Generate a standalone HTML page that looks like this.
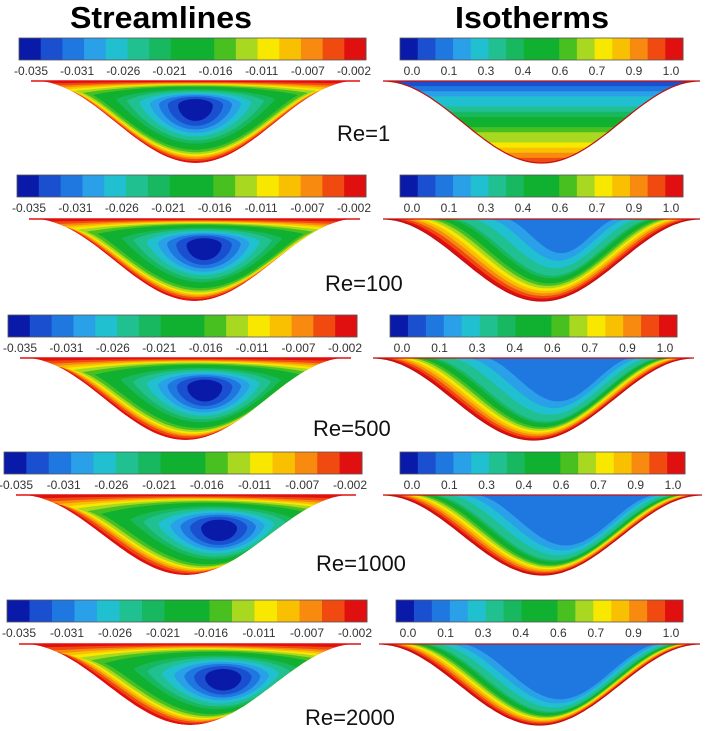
<!DOCTYPE html>
<html><head><meta charset="utf-8">
<style>
body{margin:0;background:#fff;width:709px;height:731px;overflow:hidden;font-family:"Liberation Sans",sans-serif}
svg{display:block}
</style></head>
<body>
<svg id="fig" width="709" height="731" viewBox="0 0 709 731" xmlns="http://www.w3.org/2000/svg">
<text x="70" y="28" font-size="31" font-weight="bold" textLength="182" lengthAdjust="spacingAndGlyphs">Streamlines</text>
<text x="455" y="28" font-size="31" font-weight="bold" textLength="154" lengthAdjust="spacingAndGlyphs">Isotherms</text>
</svg>
<script>
const palette=["#0a1aa8","#1a4fd0","#1f78e0","#2aa0e8","#20c0d0","#20c090","#18b860","#10b030","#10b030","#48c020","#a8d820","#f8e800","#f8c000","#f88a10","#f04a10","#e01010"];
const streamLabels=["-0.035","-0.031","-0.026","-0.021","-0.016","-0.011","-0.007","-0.002"];
const isoLabels=["0.0","0.1","0.3","0.4","0.6","0.7","0.9","1.0"];
const reLabels=["Re=1","Re=100","Re=500","Re=1000","Re=2000"];
const barTops=[38,175,315,452,600];
const leftBarX=[19,17,8,4,7];
const leftBarX2=[366,366,357,362,367];
const rightBarX=[400,400,390,400,396];
const rightBarX2=[683,683,677,685,683];
const cavTop=[81,219,358,495,644];
const cavDepth=[82,82,82,80,81];
const reX=[337,325,313,316,305];
const reY=[141,291,436,571,725];
const vortexT=[0.5,0.53,0.56,0.6,0.6];
const vortexD=[0.3,0.32,0.36,0.42,0.42];
const isoCenterT=[0.55,0.6,0.65,0.68,0.68];
const warmW=[0,0.03,0.022,0.018,0.016];
const coolW=[0,0.09,0.08,0.06,0.05];

const svg=document.getElementById('fig');
const NS="http://www.w3.org/2000/svg";
function mk(tag,attrs,parent){const e=document.createElementNS(NS,tag);for(const k in attrs)e.setAttribute(k,attrs[k]);(parent||svg).appendChild(e);return e;}

const NB=80, NT=30;
function cavityPts(x1,x2,y0,D){
  const pts=[];
  for(let i=0;i<=NB;i++){const t=i/NB;const f=Math.pow(Math.sin(Math.PI*t),2);pts.push([x1+(x2-x1)*t,y0+D*f]);}
  return pts;
}
function cavityFull(x1,x2,y0,D){
  const pts=cavityPts(x1,x2,y0,D);
  for(let j=1;j<NT;j++){const u=j/NT;pts.push([x2-(x2-x1)*u,y0]);}
  return pts;
}
function ellipseFull(cx,cy,rx,ryb,ryt){
  const pts=[];
  for(let i=0;i<=NB;i++){const t=i/NB;pts.push([cx-rx*Math.cos(Math.PI*t),cy+ryb*Math.sin(Math.PI*t)]);}
  for(let j=1;j<NT;j++){const u=j/NT;pts.push([cx+rx*Math.cos(Math.PI*u),cy-ryt*Math.sin(Math.PI*u)]);}
  return pts;
}
function scaled(pts,cx,cy,sx,sy){return pts.map(p=>[cx+(p[0]-cx)*sx,cy+(p[1]-cy)*sy]);}
function pathD(pts){return "M"+pts.map(p=>p[0].toFixed(1)+","+p[1].toFixed(1)).join("L")+"Z";}
function addClip(id,pts){
  const cp=document.createElementNS(NS,'clipPath');cp.setAttribute('id',id);
  const cpp=document.createElementNS(NS,'path');cpp.setAttribute('d',pathD(pts));cp.appendChild(cpp);svg.appendChild(cp);
}

function colorbar(x1,x2,y,labels,name){
  const n=palette.length, w=(x2-x1)/n;
  palette.forEach((c,i)=>{
    const r=mk('rect',{x:x1+i*w,y:y,width:w+0.5,height:22,fill:c});
    
    
  });
  const b=mk('rect',{x:x1,y:y,width:x2-x1,height:22,fill:'none',stroke:'#555','stroke-width':0.8});
  
  
  labels.forEach((l,i)=>{
    const t=mk('text',{x:x1+12+i*(x2-x1-24)/(labels.length-1),y:y+37,'text-anchor':'middle','font-size':12,fill:'#333'});
    t.textContent=l;
    
    
  });
}

const sS=[1,0.95,0.9,0.86,0.82,0.78,0.73,0.67,0.6,0.53,0.46,0.38,0.31,0.25,0.19,0.12];
for(let r=0;r<5;r++){
  const by=barTops[r];
  colorbar(leftBarX[r],leftBarX2[r],by,streamLabels,'stream-colorbar');
  colorbar(rightBarX[r],rightBarX2[r],by,isoLabels,'iso-colorbar');
  const y0=cavTop[r],D=cavDepth[r];
  // streamlines
  const lx1=leftBarX[r]+16,lx2=leftBarX2[r]-10;
  const lp=cavityFull(lx1,lx2,y0,D);
  addClip('sclip'+r,lp);
  const sg=mk('g',{'clip-path':'url(#sclip'+r+')'});
  
  
  const cx=lx1+(lx2-lx1)*vortexT[r],cy=y0+D*vortexD[r];
  for(let k=0;k<sS.length;k++){
    const c=palette[palette.length-1-k];
    const s=sS[k];
    const sc=scaled(lp,cx,cy,s,Math.pow(s,0.6));
    const el=ellipseFull(cx,cy,(lx2-lx1)/2*s*0.9,(y0+D-cy)*Math.pow(s,0.6)*0.95,(cy-y0)*Math.pow(s,0.6)*0.95);
    const w=Math.pow(s,1.5);
    const pts=sc.map((p,i)=>[p[0]*w+el[i][0]*(1-w),p[1]*w+el[i][1]*(1-w)]);
    const p=mk('path',{d:pathD(pts),fill:c},sg);
    
    
  }
  const tl=mk('line',{x1:lx1-4,y1:y0,x2:lx2+4,y2:y0,stroke:'#e01010','stroke-width':1.5});
  
  
  // isotherms
  const rx1=rightBarX[r]-17,rx2=Math.min(rightBarX2[r]+17,704);
  const rp=cavityPts(rx1,rx2,y0,D);
  addClip('clip'+r,rp);
  const g=mk('g',{'clip-path':'url(#clip'+r+')'});
  
  
  const n=palette.length;
  if(r===0){
    for(let k=0;k<n;k++){
      const idx=Math.min(n-1,Math.round(k*0.85)+1);
      const rr=mk('rect',{x:rx1,y:y0+k*D/n,width:rx2-rx1,height:D/n+1,fill:palette[idx]},g);
      
      
    }
  } else {
    const icx=rx1+(rx2-rx1)*isoCenterT[r],icy=y0-2;
    let s=1;
    for(let k=0;k<n-1;k++){
      const idx=n-1-k;
      const pth=mk('path',{d:pathD(scaled(rp,icx,icy,s*(1-0.2*(1-s)),s)),fill:palette[idx]},g);
      
      
      s-= idx>5 ? warmW[r] : coolW[r];
      if(idx<=2) break;
    }
  }
  const bo=mk('path',{d:pathD(rp),fill:'none',stroke:'#c01010','stroke-width':1.2});
  
  
  const t=mk('text',{x:reX[r],y:reY[r],'font-size':22,fill:'#111'});
  t.textContent=reLabels[r];
  
  
}
</script>
</body></html>
